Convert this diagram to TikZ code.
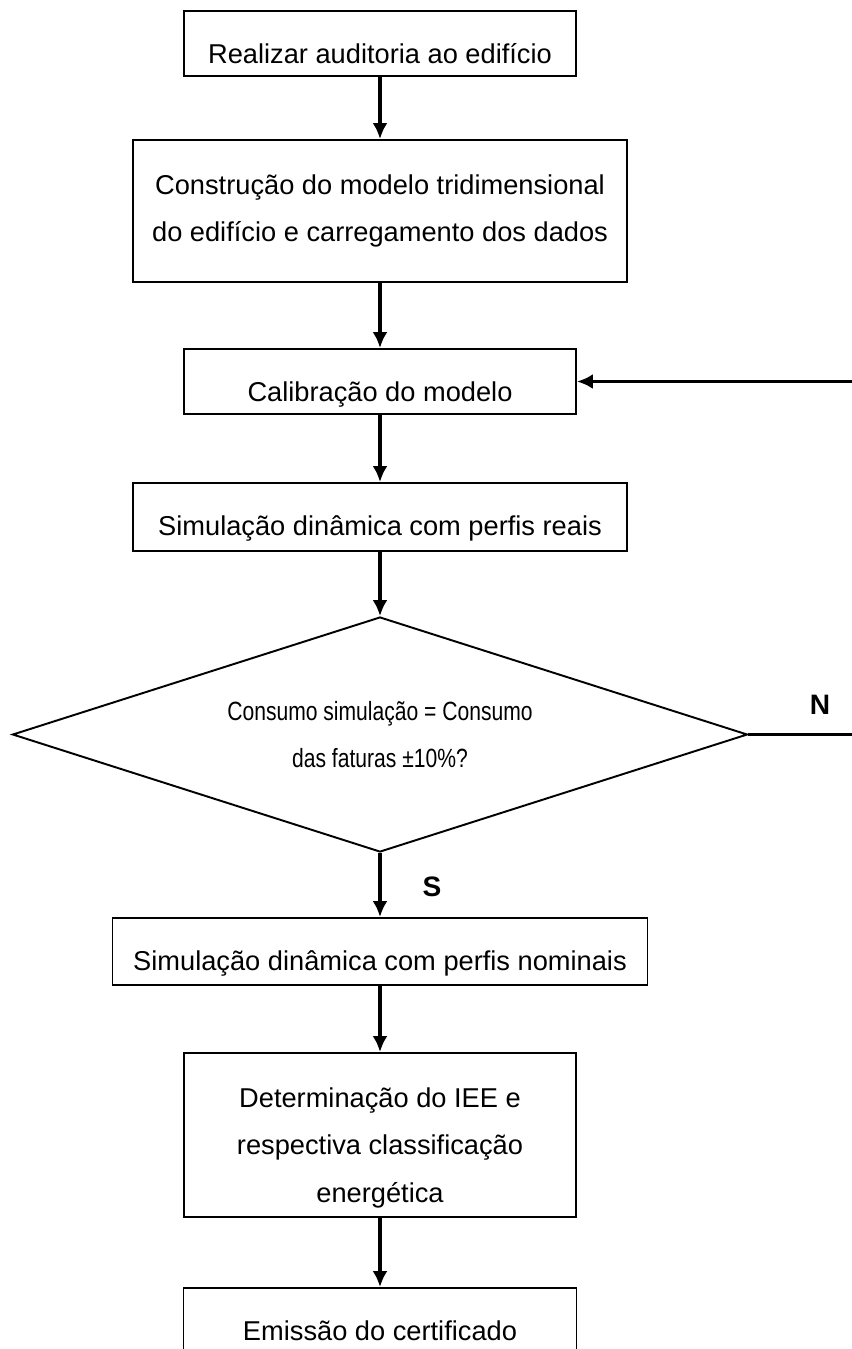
\documentclass[tikz,border=0pt]{standalone}
\usepackage{fontspec}
\setmainfont{Liberation Sans}
\newfontfamily\condfont[FakeStretch=0.8]{Liberation Sans}
\usetikzlibrary{positioning,shapes.geometric,arrows.meta}

\begin{document}
\begin{tikzpicture}[font=\fontsize{15.5}{26.9}\selectfont,>=Latex,
  stepbox/.style={draw,line width=1.1pt,inner sep=0pt,align=center,text height=1.04cm,text depth=0.26cm},
  tallbox/.style={draw,line width=1.1pt,inner sep=0pt,align=center},
  decision/.style={diamond,draw,line width=1.1pt,aspect=3.13,minimum width=14.7cm,minimum height=4.7cm,
    inner sep=0pt,align=center,font=\condfont\fontsize{15}{26.9}\selectfont},
  flow/.style={-{Latex[length=3.2mm,width=3mm]},line width=1.9pt},
  wire/.style={line width=1.9pt},
  answer/.style={font=\bfseries\fontsize{16}{19}\selectfont}]
  \useasboundingbox (0,0) rectangle (17.02,-26.98);

  % ---------------- main column ----------------
  \node[stepbox,minimum width=7.84cm] (audit) at (7.6,-0.87) {Realizar auditoria ao edifício};
  \node[tallbox,minimum width=9.88cm,minimum height=2.84cm] (model) at (7.6,-4.22)
    {Construção do modelo tridimensional\\do edifício e carregamento dos dados};
  \node[stepbox,minimum width=7.84cm] (calib) at (7.6,-7.63) {Calibração do modelo};
  \node[stepbox,minimum width=9.88cm,text depth=0.32cm] (simreal) at (7.6,-10.34) {Simulação dinâmica com perfis reais};
  \node[decision] (check) at (7.6,-14.69) {Consumo simulação = Consumo\\das faturas ±10\%?};
  \node[stepbox,minimum width=10.7cm,text depth=0.3cm] (simnom) at (7.6,-19.03) {Simulação dinâmica com perfis nominais};
  \node[tallbox,minimum width=7.84cm,text height=2.98cm,text depth=0.3cm] (iee) at (7.6,-22.7)
    {Determinação do IEE e\\respectiva classificação\\energética};
  \node[stepbox,minimum width=7.86cm] (cert) at (7.6,-26.41) {Emissão do certificado};

  \foreach \a/\b in {audit/model,model/calib,calib/simreal,simreal/check,check/simnom,simnom/iee,iee/cert}
    \draw[flow] (\a) -- (\b);

  % ---------------- answers and loop back ----------------
  \node[answer] (yes) at (8.64,-17.74) {S};
  \node[answer] (no) at (16.4,-14.1) {N};
  \coordinate (loopout) at (17.1,-14.69);
  \coordinate (loopin) at (17.1,-7.63);
  \draw[wire] (check) -- (loopout);
  \draw[flow] (loopin) -- (calib.east);
\end{tikzpicture}
\end{document}
